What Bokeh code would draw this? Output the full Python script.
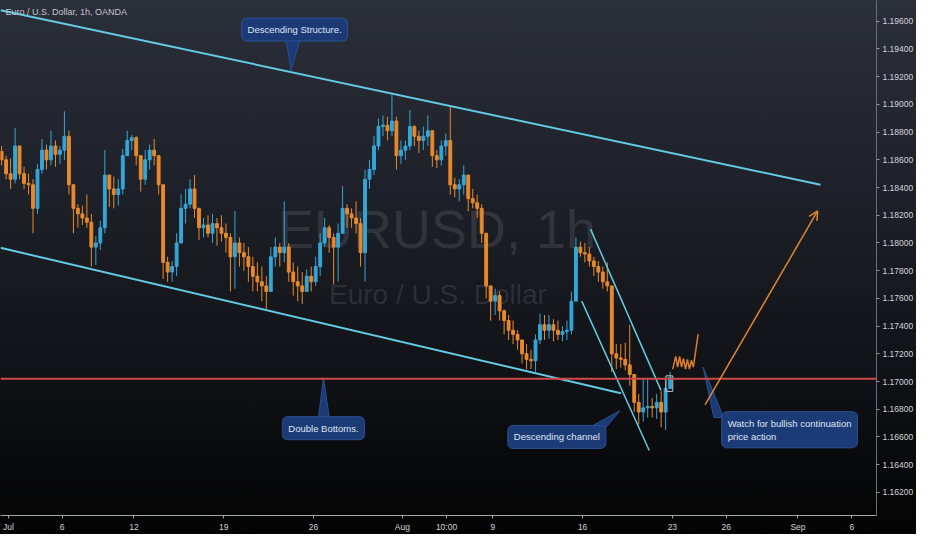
from bokeh.plotting import figure
from bokeh.models import (Range1d, FixedTicker, NumeralTickFormatter, ColumnDataSource,
                          Label, Span, Arrow, OpenHead)
from bokeh.embed import file_html
from bokeh.resources import INLINE

# ---------------- data (EUR/USD, 6-hour aggregation of the 1h chart) ----------------
# x unit: trading hours since Jul 1 00:00 (weekends skipped, as on the TradingView axis)
first_bar_hour = -9
bar_hours = 6
first_open = 1.1866
high = [1.1870, 1.1863, 1.1861, 1.1883, 1.1870, 1.1855, 1.1850, 1.1846, 1.1857, 1.1875,
        1.1871, 1.1881, 1.1874, 1.1870, 1.1895, 1.1881, 1.1839, 1.1828, 1.1827, 1.1835,
        1.1821, 1.1805, 1.1816, 1.1867, 1.1849, 1.1848, 1.1846, 1.1868, 1.1881, 1.1878,
        1.1877, 1.1863, 1.1867, 1.1871, 1.1875, 1.1863, 1.1842, 1.1790, 1.1787, 1.1807,
        1.1835, 1.1839, 1.1846, 1.1849, 1.1825, 1.1818, 1.1820, 1.1821, 1.1818, 1.1820,
        1.1814, 1.1807, 1.1823, 1.1804, 1.1800, 1.1797, 1.1790, 1.1786, 1.1783, 1.1776,
        1.1797, 1.1804, 1.1800, 1.1830, 1.1800, 1.1786, 1.1783, 1.1779, 1.1781, 1.1783,
        1.1790, 1.1807, 1.1818, 1.1813, 1.1807, 1.1814, 1.1841, 1.1828, 1.1825, 1.1830,
        1.1818, 1.1853, 1.1860, 1.1877, 1.1890, 1.1892, 1.1891, 1.1907, 1.1891, 1.1874,
        1.1874, 1.1896, 1.1885, 1.1881, 1.1884, 1.1892, 1.1881, 1.1867, 1.1874, 1.1879,
        1.1899, 1.1847, 1.1846, 1.1856, 1.1840, 1.1839, 1.1835, 1.1828, 1.1807, 1.1767,
        1.1767, 1.1765, 1.1752, 1.1748, 1.1744, 1.1737, 1.1727, 1.1727, 1.1723, 1.1734,
        1.1749, 1.1748, 1.1748, 1.1745, 1.1744, 1.1740, 1.1744, 1.1765, 1.1804, 1.1801,
        1.1800, 1.1797, 1.1790, 1.1787, 1.1783, 1.1786, 1.1769, 1.1727, 1.1727, 1.1728,
        1.1741, 1.1705, 1.1691, 1.1702, 1.1702, 1.1688, 1.1691, 1.1693, 1.1702, 1.1707]
low = [1.1856, 1.1846, 1.1839, 1.1843, 1.1846, 1.1839, 1.1835, 1.1807, 1.1821, 1.1850,
       1.1853, 1.1856, 1.1855, 1.1857, 1.1860, 1.1835, 1.1807, 1.1811, 1.1813, 1.1811,
       1.1783, 1.1784, 1.1795, 1.1807, 1.1826, 1.1825, 1.1827, 1.1835, 1.1863, 1.1867,
       1.1856, 1.1837, 1.1842, 1.1853, 1.1856, 1.1835, 1.1774, 1.1772, 1.1772, 1.1776,
       1.1800, 1.1814, 1.1825, 1.1818, 1.1802, 1.1804, 1.1804, 1.1800, 1.1798, 1.1801,
       1.1793, 1.1765, 1.1767, 1.1783, 1.1780, 1.1772, 1.1765, 1.1765, 1.1758, 1.1752,
       1.1765, 1.1783, 1.1783, 1.1786, 1.1772, 1.1762, 1.1758, 1.1756, 1.1765, 1.1765,
       1.1769, 1.1776, 1.1797, 1.1793, 1.1770, 1.1772, 1.1807, 1.1811, 1.1811, 1.1807,
       1.1783, 1.1772, 1.1839, 1.1849, 1.1867, 1.1877, 1.1874, 1.1877, 1.1853, 1.1857,
       1.1860, 1.1867, 1.1870, 1.1865, 1.1867, 1.1870, 1.1855, 1.1854, 1.1856, 1.1863,
       1.1835, 1.1833, 1.1830, 1.1835, 1.1823, 1.1825, 1.1818, 1.1800, 1.1760, 1.1744,
       1.1748, 1.1744, 1.1734, 1.1730, 1.1727, 1.1723, 1.1713, 1.1709, 1.1709, 1.1707,
       1.1727, 1.1730, 1.1731, 1.1729, 1.1730, 1.1729, 1.1730, 1.1734, 1.1758, 1.1790,
       1.1786, 1.1783, 1.1776, 1.1772, 1.1767, 1.1765, 1.1707, 1.1709, 1.1710, 1.1708,
       1.1697, 1.1678, 1.1669, 1.1671, 1.1674, 1.1674, 1.1673, 1.1667, 1.1665, 1.1695]
close = [1.1860, 1.1850, 1.1846, 1.1870, 1.1850, 1.1843, 1.1842, 1.1825, 1.1853, 1.1867,
         1.1860, 1.1870, 1.1864, 1.1867, 1.1877, 1.1842, 1.1825, 1.1821, 1.1818, 1.1815,
         1.1797, 1.1800, 1.1811, 1.1849, 1.1839, 1.1835, 1.1839, 1.1863, 1.1874, 1.1876,
         1.1863, 1.1846, 1.1860, 1.1867, 1.1863, 1.1842, 1.1786, 1.1779, 1.1783, 1.1800,
         1.1825, 1.1828, 1.1839, 1.1825, 1.1811, 1.1813, 1.1807, 1.1814, 1.1811, 1.1807,
         1.1804, 1.1790, 1.1800, 1.1793, 1.1790, 1.1783, 1.1776, 1.1772, 1.1769, 1.1765,
         1.1790, 1.1797, 1.1793, 1.1797, 1.1779, 1.1772, 1.1769, 1.1765, 1.1776, 1.1772,
         1.1783, 1.1800, 1.1811, 1.1804, 1.1797, 1.1807, 1.1825, 1.1821, 1.1818, 1.1814,
         1.1793, 1.1846, 1.1853, 1.1870, 1.1884, 1.1885, 1.1881, 1.1888, 1.1863, 1.1867,
         1.1870, 1.1884, 1.1877, 1.1874, 1.1877, 1.1881, 1.1863, 1.1860, 1.1870, 1.1874,
         1.1842, 1.1839, 1.1842, 1.1849, 1.1832, 1.1829, 1.1825, 1.1807, 1.1769, 1.1758,
         1.1762, 1.1751, 1.1744, 1.1737, 1.1734, 1.1730, 1.1720, 1.1716, 1.1715, 1.1730,
         1.1741, 1.1737, 1.1741, 1.1737, 1.1734, 1.1736, 1.1737, 1.1758, 1.1797, 1.1793,
         1.1792, 1.1787, 1.1783, 1.1779, 1.1772, 1.1769, 1.1720, 1.1717, 1.1716, 1.1712,
         1.1705, 1.1685, 1.1678, 1.1681, 1.1682, 1.1681, 1.1685, 1.1678, 1.1695, 1.1703]

# axis ticks
x_tick_hours = [0, 72, 168, 288, 408, 527, 586, 648, 768, 888, 960, 1056, 1128]
x_tick_labels = ["Jul", "6", "12", "19", "26", "Aug", "10:00", "9", "16", "23", "26", "Sep", "6"]
y_ticks = [1.162, 1.164, 1.166, 1.168, 1.170, 1.172, 1.174, 1.176, 1.178,
           1.180, 1.182, 1.184, 1.186, 1.188, 1.190, 1.192, 1.194, 1.196]

# drawings (hour, price)
upper_line_x = [-10.5, 1086.1]
upper_line_y = [1.1968, 1.1842]
lower_line_x = [-10.5, 819.2]
lower_line_y = [1.17965, 1.16915]
support_level = 1.1702
chan_up_x = [778.6, 872.8]
chan_up_y = [1.1810, 1.16936]
chan_lo_x = [766.8, 857.1]
chan_lo_y = [1.1758, 1.16502]
scribble_x = [888.5, 892.5, 895.1, 897.7, 900.3, 902.9, 905.6, 908.2, 910.8, 913.4, 916.0, 922.5]
scribble_y = [1.1709, 1.17181, 1.17104, 1.17181, 1.17104, 1.17167, 1.1709, 1.1716, 1.1709, 1.17153, 1.17104, 1.17342]
arrow_from = (931.7, 1.16831)
arrow_to = (1082.2, 1.18231)
box_x = (879.4, 888.5)
box_y = (1.16929, 1.17041)

callout_text = ["Descending Structure.", "Double Bottoms.", "Descending channel",
                "Watch for bullish continuation\nprice action"]
callout_x = [382.8, 421.4, 733.5, 954.0]
callout_y = [1.1954, 1.16663, 1.1660, 1.16652]
callout_align = ["center", "center", "center", "left"]
pointer_xs = [[371.6, 389.9, 378.2], [414.8, 429.2, 421.4], [777.3, 793.0, 817.9], [943.5, 956.6, 929.1]]
pointer_ys = [[1.19463, 1.19463, 1.19246], [1.1674, 1.1674, 1.17027], [1.1667, 1.16628, 1.16789],
              [1.1674, 1.1674, 1.17104]]

tag_levels = [1.1930, 1.17216]
tag_text = ["1.19300", "1.17156"]

# ---------------- build ----------------
n = len(close)
t = [first_bar_hour + bar_hours * i for i in range(n)]
opn = [first_open] + close[:-1]
hi = [max(h, o, c) for h, o, c in zip(high, opn, close)]
lo = [min(l, o, c) for l, o, c in zip(low, opn, close)]
UP, DOWN = "#35a6d8", "#e8892c"
col = [UP if c >= o else DOWN for o, c in zip(opn, close)]
src = ColumnDataSource(dict(t=t, hi=hi, lo=lo, top=[max(o, c) for o, c in zip(opn, close)],
                            bot=[min(o, c) for o, c in zip(opn, close)], col=col))

FONT = "Liberation Sans"

p = figure(width=916, height=534, x_range=Range1d(-10.5, 1161), y_range=Range1d(1.16033, 1.1975),
           output_backend="svg", toolbar_location=None, y_axis_location="right")
p.min_border_left = 0
p.min_border_top = 0
p.min_border_right = 0
p.min_border_bottom = 0
p.xgrid.visible = False
p.ygrid.visible = False
p.outline_line_color = None
p.background_fill_alpha = 0
p.border_fill_alpha = 0
p.styles = {"background": "linear-gradient(to bottom, #2b2f3a 0%, #1e2129 35%, #111216 70%, #030303 100%)"}

# axes
p.yaxis.ticker = FixedTicker(ticks=y_ticks)
p.yaxis.formatter = NumeralTickFormatter(format="0.00000")
p.xaxis.ticker = FixedTicker(ticks=x_tick_hours)
p.xaxis.major_label_overrides = {h: lab for h, lab in zip(x_tick_hours, x_tick_labels)}
for ax in (p.xaxis, p.yaxis):
    ax.major_label_text_font = FONT
    ax.major_label_text_font_size = "8.5px"
    ax.major_label_text_color = "#d1d4dc"
    ax.minor_tick_line_color = None
    ax.major_tick_in = 0
    ax.major_tick_out = 3
    ax.major_label_standoff = 3
    ax.axis_label_standoff = 0
p.yaxis.axis_line_color = "#6b6e78"
p.yaxis.major_tick_line_color = "#9598a1"
p.xaxis.axis_line_color = "#a3a6af"
p.xaxis.major_tick_line_color = "#a3a6af"

# watermark
p.add_layout(Label(x=573.2, y=1.18098, text="EURUSD, 1h", text_align="center", text_baseline="middle",
                   text_font=FONT, text_font_size="54px", text_color="#7f8290", text_alpha=0.22,
                   level="underlay"))
p.add_layout(Label(x=574.5, y=1.17629, text="Euro / U.S. Dollar", text_align="center",
                   text_baseline="middle", text_font=FONT, text_font_size="28px",
                   text_color="#7f8290", text_alpha=0.22, level="underlay"))

# candles
p.segment(x0="t", y0="lo", x1="t", y1="hi", color="col", line_width=1, source=src)
p.vbar(x="t", width=3.8, top="top", bottom="bot", fill_color="col", line_color="col", source=src)

# trend lines
LINE = "#63cbe3"
p.line(upper_line_x, upper_line_y, line_color=LINE, line_width=2)
p.line(lower_line_x, lower_line_y, line_color=LINE, line_width=2)
p.line(chan_up_x, chan_up_y, line_color=LINE, line_width=1.5)
p.line(chan_lo_x, chan_lo_y, line_color=LINE, line_width=1.5)
p.add_layout(Span(location=support_level, dimension="width", line_color="#cf4a4d", line_width=2))
p.quad(left=[box_x[0]], right=[box_x[1]], bottom=[box_y[0]], top=[box_y[1]],
       fill_alpha=0, line_color="#c3c6ce", line_width=1)
p.line(scribble_x, scribble_y, line_color="#e07f2a", line_width=1.5)
p.add_layout(Arrow(end=OpenHead(size=9, line_color="#e0852f", line_width=1.5),
                   x_start=arrow_from[0], y_start=arrow_from[1], x_end=arrow_to[0], y_end=arrow_to[1],
                   line_color="#e0852f", line_width=1.5))

# callouts
BOX = "#1c3b76"
p.patches(pointer_xs, pointer_ys, fill_color=BOX, line_color="#2b4f92", line_width=1)
for txt, cx, cy, al in zip(callout_text, callout_x, callout_y, callout_align):
    p.add_layout(Label(x=cx, y=cy, text=txt, text_align=al, text_baseline="middle",
                       text_font=FONT, text_font_size="9.5px", text_color="#dfe5f2",
                       background_fill_color=BOX, border_line_color="#2b4f92",
                       border_radius=5, padding=6))

# title
p.add_layout(Label(x=-3.9, y=1.19666, text="Euro / U.S. Dollar, 1h, OANDA", text_align="left",
                   text_baseline="middle", text_font=FONT, text_font_size="9px", text_color="#c3c6ce"))

# price tags on the axis
p.add_layout(Label(x=1161, y=tag_levels[0], text=tag_text[0], text_align="left", text_baseline="middle",
                   text_font=FONT, text_font_size="8.5px", text_color="#e6f4f6",
                   background_fill_color="#1e7d8c", padding=2, x_offset=2))
p.add_layout(Label(x=1161, y=tag_levels[1], text=tag_text[1], text_align="left", text_baseline="middle",
                   text_font=FONT, text_font_size="8.5px", text_color="#6a6d78",
                   background_fill_color="#cfd2d9", padding=2, x_offset=2))

open("out.html", "w").write(file_html(p, INLINE))
